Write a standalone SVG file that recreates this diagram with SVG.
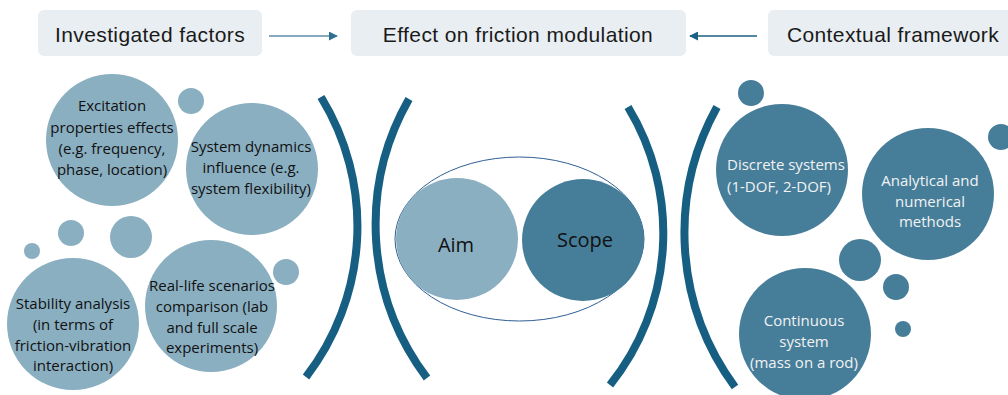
<svg xmlns="http://www.w3.org/2000/svg" width="1008" height="395" viewBox="0 0 1008 395">
  <defs>
    <marker id="headLight" viewBox="0 0 10 10" refX="9" refY="5" markerWidth="9" markerHeight="9" orient="auto" markerUnits="userSpaceOnUse">
      <path d="M0,0 L10,5 L0,10 z" fill="#2f6f92"/>
    </marker>
    <marker id="headDark" viewBox="0 0 10 10" refX="9" refY="5" markerWidth="9" markerHeight="9" orient="auto" markerUnits="userSpaceOnUse">
      <path d="M0,0 L10,5 L0,10 z" fill="#1b5f82"/>
    </marker>
  </defs>
  <style>
    .box { fill: #e8eef2; }
    .head { font-family: "Liberation Sans", Arial, sans-serif; font-size: 21px; letter-spacing: 0.4px; fill: #1a1a1a; text-anchor: middle; }
    .light { fill: #8aafc1; }
    .dark { fill: #467e9a; }
    .txtDark { font-family: "Open Sans", "Liberation Sans", sans-serif; font-size: 15px; fill: #111; text-anchor: middle; }
    .txtLight { font-family: "Open Sans", "Liberation Sans", sans-serif; font-size: 15px; fill: #f2f2f2; text-anchor: middle; }
    .arc { fill: none; stroke: #175f82; stroke-width: 8; stroke-linecap: butt; }
    .big { font-family: "Open Sans", "Liberation Sans", sans-serif; font-size: 20px; fill: #111; text-anchor: middle; }
  </style>
  <rect width="1008" height="395" fill="#ffffff"/>

  <!-- header boxes -->
  <g id="investigated-factors">
    <rect class="box" x="38" y="10" width="224" height="46" rx="6"/>
    <text class="head" x="150" y="42">Investigated factors</text>
  </g>
  <g id="effect-friction">
    <rect class="box" x="351" y="10" width="335" height="46" rx="6"/>
    <text class="head" x="518" y="42">Effect on friction modulation</text>
  </g>
  <g id="contextual-framework">
    <rect class="box" x="768" y="10" width="250" height="46" rx="6"/>
    <text class="head" x="893" y="42">Contextual framework</text>
  </g>

  <!-- connectors -->
  <g id="connectors">
    <line x1="269" y1="36" x2="337" y2="36" stroke="#5b8fac" stroke-width="1.5" marker-end="url(#headLight)"/>
    <line x1="757" y1="36" x2="690" y2="36" stroke="#1b5f82" stroke-width="1.5" marker-end="url(#headDark)"/>
  </g>

  <!-- bracket arcs -->
  <g id="brackets">
    <path class="arc" d="M321,97 A247,247 0 0 1 306,377"/>
    <path class="arc" d="M409,99 A254,254 0 0 0 427,378"/>
    <path class="arc" d="M628,107 A243,243 0 0 1 610,385"/>
    <path class="arc" d="M717,107 A260,260 0 0 0 735,387"/>
  </g>

  <!-- investigated factors cluster -->
  <g id="small-left">
    <circle class="light" cx="191" cy="101" r="13"/>
    <circle class="light" cx="71" cy="233" r="13"/>
    <circle class="light" cx="131" cy="237" r="21"/>
    <circle class="light" cx="32" cy="251" r="8"/>
    <circle class="light" cx="286" cy="272" r="13"/>
  </g>
  <g id="excitation">
    <circle class="light" cx="112" cy="140" r="66"/>
    <text class="txtDark" x="112"><tspan x="112" y="111">Excitation</tspan><tspan x="112" y="133">properties effects</tspan><tspan x="112" y="154">(e.g. frequency,</tspan><tspan x="112" y="175">phase, location)</tspan></text>
  </g>
  <g id="system-dynamics">
    <circle class="light" cx="252" cy="169" r="66"/>
    <text class="txtDark" x="251"><tspan x="251" y="152">System dynamics</tspan><tspan x="251" y="173">influence (e.g.</tspan><tspan x="251" y="194">system flexibility)</tspan></text>
  </g>
  <g id="stability">
    <circle class="light" cx="73" cy="324" r="66"/>
    <text class="txtDark" x="73"><tspan x="73" y="309">Stability analysis</tspan><tspan x="73" y="330">(in terms of</tspan><tspan x="73" y="351">friction-vibration</tspan><tspan x="73" y="371">interaction)</tspan></text>
  </g>
  <g id="real-life">
    <circle class="light" cx="211" cy="306" r="66"/>
    <text class="txtDark" x="212"><tspan x="212" y="291">Real-life scenarios</tspan><tspan x="212" y="312">comparison (lab</tspan><tspan x="212" y="333">and full scale</tspan><tspan x="212" y="353">experiments)</tspan></text>
  </g>

  <!-- aim and scope -->
  <g id="aim-scope">
    <ellipse cx="519.5" cy="239" rx="124.5" ry="82" fill="none" stroke="#2f5f94" stroke-width="1"/>
    <g id="aim">
      <circle class="light" cx="457" cy="239" r="61"/>
      <text class="big" x="456" y="252">Aim</text>
    </g>
    <g id="scope">
      <circle class="dark" cx="583" cy="240" r="61"/>
      <text class="big" x="585" y="247">Scope</text>
    </g>
  </g>

  <!-- contextual framework cluster -->
  <g id="small-right">
    <circle class="dark" cx="751" cy="93" r="13"/>
    <circle class="dark" cx="1001" cy="137" r="13"/>
    <circle class="dark" cx="860" cy="260" r="21"/>
    <circle class="dark" cx="896" cy="287" r="13"/>
    <circle class="dark" cx="903" cy="329" r="8"/>
  </g>
  <g id="discrete">
    <circle class="dark" cx="782" cy="170" r="66"/>
    <text class="txtLight" style="text-anchor:start"><tspan x="727" y="170">Discrete systems</tspan><tspan x="727" y="192">(1-DOF, 2-DOF)</tspan></text>
  </g>
  <g id="analytical">
    <circle class="dark" cx="928" cy="194" r="66"/>
    <text class="txtLight" x="930"><tspan x="930" y="186">Analytical and</tspan><tspan x="930" y="207">numerical</tspan><tspan x="930" y="227">methods</tspan></text>
  </g>
  <g id="continuous">
    <circle class="dark" cx="805" cy="334" r="66"/>
    <text class="txtLight" x="804"><tspan x="804" y="326">Continuous</tspan><tspan x="804" y="347">system</tspan><tspan x="804" y="368">(mass on a rod)</tspan></text>
  </g>
</svg>
